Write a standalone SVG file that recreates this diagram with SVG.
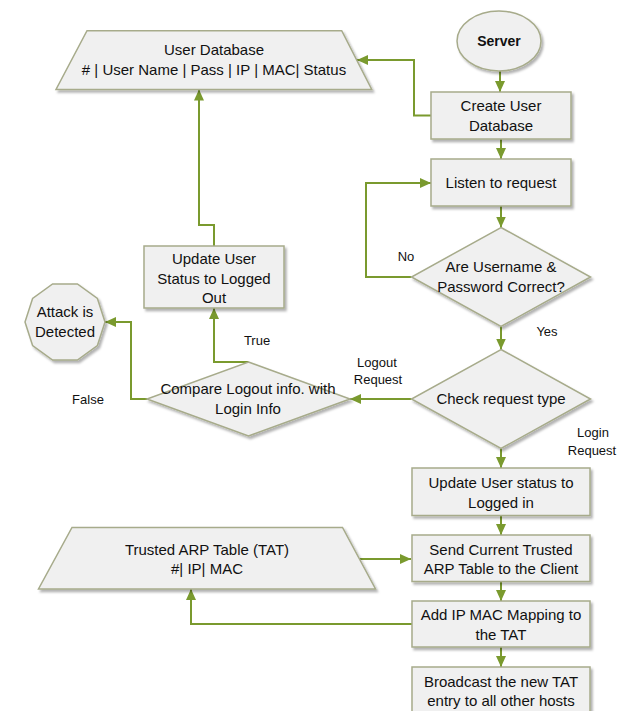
<svg xmlns="http://www.w3.org/2000/svg" width="624" height="711" viewBox="0 0 624 711">
<defs>
<filter id="sh" x="-10%" y="-10%" width="130%" height="130%">
<feDropShadow dx="2" dy="2.5" stdDeviation="1.2" flood-color="#000" flood-opacity="0.3"/>
</filter>
<marker id="ah" markerWidth="11" markerHeight="10" refX="11" refY="5" orient="auto" markerUnits="userSpaceOnUse">
<path d="M0,0 L11,5 L0,10 Z" fill="#7A9A2E"/>
</marker>
</defs>
<style>
.s{fill:#F0F0F0;stroke:#A7AB8B;stroke-width:1.5;filter:url(#sh)}
.t{font-family:"Liberation Sans",Arial,sans-serif;font-size:15px;fill:#111;text-anchor:middle}
.l{font-family:"Liberation Sans",Arial,sans-serif;font-size:13px;fill:#111;text-anchor:middle}
.c{fill:none;stroke:#7A9A2E;stroke-width:2;marker-end:url(#ah)}
</style>
<g id="connectors">
<path class="c" d="M500,71 V92"/>
<path class="c" d="M501,139 V159"/>
<path class="c" d="M431,115.5 H414 V60 H357"/>
<path class="c" d="M501,206 V227.5"/>
<path class="c" d="M411.5,277 H366 V183 H431"/>
<path class="c" d="M501,326.5 V349.5"/>
<path class="c" d="M411.5,399 H350"/>
<path class="c" d="M248.5,362 H214 V308"/>
<path class="c" d="M147,399 H131 V322 H105"/>
<path class="c" d="M214,246 V225 H199 V89.5"/>
<path class="c" d="M501,448.5 V468"/>
<path class="c" d="M501,515.5 V535"/>
<path class="c" d="M501,581.5 V601"/>
<path class="c" d="M501,647 V667"/>
<path class="c" d="M359.5,559 H411"/>
<path class="c" d="M412,624 H191 V589"/>
</g>
<g id="labels">
<text class="l" x="406" y="261">No</text>
<text class="l" x="547" y="336">Yes</text>
<text class="l" x="257" y="344.5">True</text>
<text class="l" x="88" y="403.5">False</text>
<text class="l" x="377" y="367">Logout</text>
<text class="l" x="378" y="384">Request</text>
<text class="l" x="593" y="436.5">Login</text>
<text class="l" x="592" y="454.5">Request</text>
</g>
<g id="server">
<ellipse class="s" cx="499" cy="41" rx="42" ry="30"/>
<text class="t" x="499" y="46" style="font-weight:bold;font-size:14px">Server</text>
</g>
<g id="create-db">
<rect class="s" x="431" y="92" width="140" height="47"/>
<text class="t" x="501" y="111">Create User</text>
<text class="t" x="501" y="131">Database</text>
</g>
<g id="user-db">
<polygon class="s" points="87,30.7 341.7,30.7 371.7,89.5 56,89.5"/>
<text class="t" x="214" y="55">User Database</text>
<text class="t" x="214" y="75"># | User Name | Pass | IP | MAC| Status</text>
</g>
<g id="listen">
<rect class="s" x="431" y="159" width="140" height="47"/>
<text class="t" x="501" y="188">Listen to request</text>
</g>
<g id="check-credentials">
<polygon class="s" points="501,227.5 590.5,277 501,326.5 411.5,277"/>
<text class="t" x="501" y="272">Are Username &amp;</text>
<text class="t" x="501" y="292">Password Correct?</text>
</g>
<g id="check-type">
<polygon class="s" points="501,349.5 590.5,399 501,448.5 411.5,399"/>
<text class="t" x="501" y="404">Check request type</text>
</g>
<g id="update-logged-out">
<rect class="s" x="144" y="246" width="140" height="62"/>
<text class="t" x="214" y="263.5">Update User</text>
<text class="t" x="214" y="283.5">Status to Logged</text>
<text class="t" x="214" y="302.5">Out</text>
</g>
<g id="compare">
<polygon class="s" points="248.5,362 350,399 248.5,436 147,399"/>
<text class="t" x="248" y="393.5">Compare Logout info. with</text>
<text class="t" x="248" y="413.5">Login Info</text>
</g>
<g id="attack">
<polygon class="s" points="105,322 97.4,345.5 77.4,360 52.6,360 32.6,345.5 25,322 32.6,298.5 52.6,284 77.4,284 97.4,298.5"/>
<text class="t" x="65" y="317">Attack is</text>
<text class="t" x="65" y="337">Detected</text>
</g>
<g id="update-logged-in">
<rect class="s" x="412" y="468" width="178" height="47.5"/>
<text class="t" x="501" y="488">Update User status to</text>
<text class="t" x="501" y="508">Logged in</text>
</g>
<g id="tat">
<polygon class="s" points="72,527.5 342.5,527.5 375.5,589 38.5,589"/>
<text class="t" x="207" y="555">Trusted ARP Table (TAT)</text>
<text class="t" x="207" y="574">#| IP| MAC</text>
</g>
<g id="send-tat">
<rect class="s" x="412" y="535" width="178" height="46.5"/>
<text class="t" x="501" y="555">Send Current Trusted</text>
<text class="t" x="501" y="574">ARP Table to the Client</text>
</g>
<g id="add-mapping">
<rect class="s" x="412" y="601" width="178" height="46"/>
<text class="t" x="501" y="620">Add IP MAC Mapping to</text>
<text class="t" x="501" y="640">the TAT</text>
</g>
<g id="broadcast">
<rect class="s" x="412" y="667" width="178" height="50"/>
<text class="t" x="501" y="687">Broadcast the new TAT</text>
<text class="t" x="501" y="706">entry to all other hosts</text>
</g>
</svg>
